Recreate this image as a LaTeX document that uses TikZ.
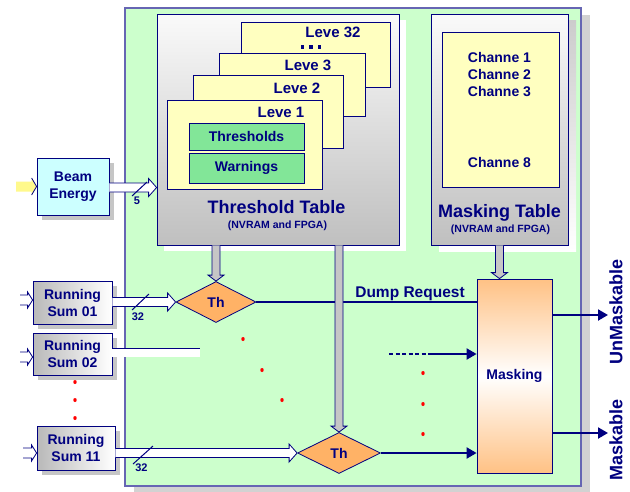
\documentclass[tikz,border=0pt]{standalone}
\usepackage{fontspec}
\setmainfont{Liberation Sans}
\usetikzlibrary{shapes.geometric,arrows.meta,calc,shadows}
\definecolor{navy}{RGB}{0,0,128}
\definecolor{panelgreen}{RGB}{204,255,204}
\definecolor{cardyellow}{RGB}{255,255,192}
\definecolor{boxgreen}{RGB}{130,230,152}
\definecolor{beamcyan}{RGB}{204,255,255}
\definecolor{thorange}{RGB}{255,178,102}
\newcommand{\fs}[1]{\bfseries\fontsize{#1}{#1}\selectfont}
\tikzset{
  fatw/.store in=\fatw, fatw=4.5pt,
  fath/.store in=\fath, fath=9pt,
  fatl/.store in=\fatl, fatl=8pt,
  hfat/.style={to path={let \p1=(\tikztostart),\p2=(\tikztotarget) in
    (\x1,\y1+\fatw) -- (\x2-\fatl,\y1+\fatw) -- (\x2-\fatl,\y1+\fath) -- (\x2,\y1)
    -- (\x2-\fatl,\y1-\fath) -- (\x2-\fatl,\y1-\fatw) -- (\x1,\y1-\fatw)}},
  vfat/.style={to path={let \p1=(\tikztostart),\p2=(\tikztotarget) in
    (\x1-\fatw,\y1) -- (\x1-\fatw,\y2+\fatl) -- (\x1-\fath,\y2+\fatl) -- (\x1,\y2)
    -- (\x1+\fath,\y2+\fatl) -- (\x1+\fatw,\y2+\fatl) -- (\x1+\fatw,\y1)}},
  fatwhite/.style={fill=white, draw=navy, line width=0.8pt, line join=miter},
  fatgray/.style={fill=gray!45, draw=navy, line width=0.8pt, fatw=4pt, fath=8pt, fatl=6pt},
  panelbox/.style={rectangle, draw=navy!60, line width=1.2pt, fill=panelgreen,
    drop shadow={shadow xshift=9pt, shadow yshift=-7pt, fill=gray!35, opacity=1}},
  tablebox/.style={rectangle, draw=navy, line width=0.8pt, top color=gray!4, bottom color=gray!50},
  card/.style={rectangle, draw=navy, line width=0.8pt, fill=cardyellow},
  greenbox/.style={rectangle, draw=navy, line width=0.8pt, fill=boxgreen},
  srcbox/.style={rectangle, draw=navy, line width=0.8pt, align=center,
    drop shadow={shadow xshift=5pt, shadow yshift=-5pt, fill=gray!45, opacity=1}},
  sumbox/.style={srcbox, left color=gray!55, right color=white},
  beambox/.style={srcbox, fill=beamcyan},
  thdiamond/.style={diamond, draw=navy, line width=0.8pt, fill=thorange, aspect=2, minimum height=41pt},
  maskbox/.style={rectangle, draw=navy, line width=0.8pt, top color=thorange!80,
    bottom color=thorange!80, middle color=white, minimum width=75pt, minimum height=194pt},
  navyline/.style={draw=navy, line width=2pt},
  navyarrow/.style={navyline, -{Triangle[length=10pt,width=11pt]}},
  slash/.style={draw=navy, line width=1pt},
  reddot/.style={fill=red, draw=none},
  ellipsisdot/.style={fill=navy, draw=none},
}
\begin{document}
\begin{tikzpicture}[x=1pt,y=-1pt,
  every node/.style={text=navy, font=\bfseries\fontsize{14}{17}\selectfont, inner sep=0pt}]
\useasboundingbox (0,0) rectangle (630,491);
\fill[white] (0,0) rectangle (630,491);

% main panel
\node[panelbox, minimum width=456pt, minimum height=478pt] (panel) at (353,247) {};

% threshold table
\node[tablebox, minimum width=242pt, minimum height=231pt,
  drop shadow={shadow xshift=7pt, shadow yshift=-6pt, fill=white, opacity=1}] (tt) at (278,129.5) {};
\node[card, minimum width=149pt, minimum height=65pt] (l32) at (315.5,54.5) {};
\node[anchor=base, font=\fs{15}] (l32t) at (333,37) {Leve 32};
\foreach \dx in {302.5,311,319.5}
  \fill[ellipsisdot] (\dx-1.7,45) rectangle (\dx+1.7,49);
\node[card, minimum width=146pt, minimum height=63pt] (l3) at (292,84.5) {};
\node[anchor=base, font=\fs{15}] (l3t) at (308,70) {Leve 3};
\node[card, minimum width=150pt, minimum height=73pt] (l2) at (268,111.5) {};
\node[anchor=base, font=\fs{15}] (l2t) at (297,93) {Leve 2};
\node[card, minimum width=155pt, minimum height=89pt] (l1) at (244.5,144.5) {};
\node[anchor=base, font=\fs{15}] (l1t) at (281,117) {Leve 1};
\node[greenbox, minimum width=115pt, minimum height=27pt] (thr) at (246.5,136.5) {Thresholds};
\node[greenbox, minimum width=115pt, minimum height=30pt] (warn) at (246.5,168) {Warnings};
\node[anchor=base, font=\fs{18}] (ttt) at (276.5,213) {Threshold Table};
\node[anchor=base, font=\fs{10.5}] (ttn) at (277.5,228) {(NVRAM and FPGA)};

% masking table
\node[tablebox, minimum width=137pt, minimum height=231pt,
  drop shadow={shadow xshift=8pt, shadow yshift=-6pt, top color=gray!40, bottom color=white, opacity=1}] (mt) at (499.5,129.5) {};
\node[card, minimum width=117pt, minimum height=155pt] (chan) at (500.5,109.5) {};
\node[anchor=base] (c1) at (499.5,62) {Channe 1};
\node[anchor=base] (c2) at (499.5,79) {Channe 2};
\node[anchor=base] (c3) at (499.5,96) {Channe 3};
\node[anchor=base] (c8) at (499.5,167) {Channe 8};
\node[anchor=base, font=\fs{18}] (mtt) at (499.5,217) {Masking Table};
\node[anchor=base, font=\fs{10.5}] (mtn) at (500.5,232) {(NVRAM and FPGA)};

% sources
\node[beambox, minimum width=72pt, minimum height=57pt] (beam) at (73,186.5) {Beam\\Energy};
\node[sumbox, minimum width=79pt, minimum height=43pt] (rs1) at (72.5,302.5) {Running\\Sum 01};
\node[sumbox, minimum width=79pt, minimum height=42pt] (rs2) at (72.5,354) {Running\\Sum 02};
\node[sumbox, minimum width=78pt, minimum height=44pt] (rs11) at (76,448) {Running\\Sum 11};

% comparators and masking
\node[thdiamond, minimum width=80pt] (th1) at (216,302) {Th};
\node[thdiamond, minimum width=83pt] (th2) at (339,453) {Th};
\node[maskbox] (mask) at (514.5,376) {Masking};

% input arrows
\coordinate (bin) at (16,186.5);
\path[fill=yellow!45, fatw=5pt, fath=8.5pt, fatl=5pt] (bin) to[hfat] (beam.west);
\draw[navy, line width=0.8pt] ($(beam.west)+(-5,-8.5)$) -- (beam.west) -- ($(beam.west)+(-5,8.5)$);
\coordinate (rs1in) at (20,300);
\draw[fatwhite, fatw=5pt, fath=8pt, fatl=5pt] (rs1in) to[hfat] (rs1.west);
\coordinate (rs2in) at (20,357);
\draw[fatwhite, fatw=5pt, fath=8pt, fatl=5pt] (rs2in) to[hfat] (rs2.west);
\coordinate (rs11in) at (23,453);
\draw[fatwhite, fatw=5pt, fath=8pt, fatl=5pt] (rs11in) to[hfat] (rs11.west);

% data buses
\draw[fatwhite] (beam.east |- 0,187.5) to[hfat] (tt.west);
\draw[slash] (132,196) -- (147,182);
\node[font=\fs{11}] (b5) at (137,200.5) {5};
\draw[fatwhite] (rs1.east |- th1.west) to[hfat] (th1.west);
\draw[slash] (132,310) -- (149,294);
\node[font=\fs{11}] (b32a) at (138,316.5) {32};
\coordinate (rs2end) at (200,352.5);
\draw[draw=navy, line width=0.8pt, double=white, double distance=8pt] (rs2.east |- rs2end) -- (rs2end);
\draw[fatwhite] (rs11.east |- th2.west) to[hfat] (th2.west);
\draw[slash] (133,464) -- (153,446);
\node[font=\fs{11}] (b32b) at (141.5,467.5) {32};

% dump request and masking inputs
\draw[navyline] (th1.east) -- (th1.east -| mask.west);
\node[anchor=base, font=\fs{15.5}] (dump) at (410,297) {Dump Request};
\draw[navyarrow] (th2.east) -- (th2.east -| mask.west);
\coordinate (dstart) at (389,354);
\coordinate (dmid) at (430,354);
\draw[navyline, dash pattern=on 4pt off 2.5pt] (dstart) -- (dmid);
\draw[navyarrow] (dmid) -- (dmid -| mask.west);

% gray table arrows
\draw[fatgray] (tt.south -| th1.north) to[vfat] (th1.north);
\draw[fatgray] (tt.south -| th2.north) to[vfat] (th2.north);
\draw[fatgray] (mt.south) to[vfat] (mt.south |- mask.north);

% outputs
\coordinate (unm) at (608,315);
\coordinate (msk) at (608,433);
\draw[navyarrow] (mask.east |- unm) -- (unm);
\draw[navyarrow] (mask.east |- msk) -- (msk);
\node[rotate=90, font=\fs{18}] (unmt) at (616,312) {UnMaskable};
\node[rotate=90, font=\fs{18}] (mskt) at (616,440) {Maskable};

% red dots
\foreach \p in {(243,339),(262,370),(282,400),(423,373),(423,404),(423,434),(75,382),(75,400),(75,418)}
  \fill[reddot] \p ellipse (1.7pt and 2pt);
\end{tikzpicture}
\end{document}
